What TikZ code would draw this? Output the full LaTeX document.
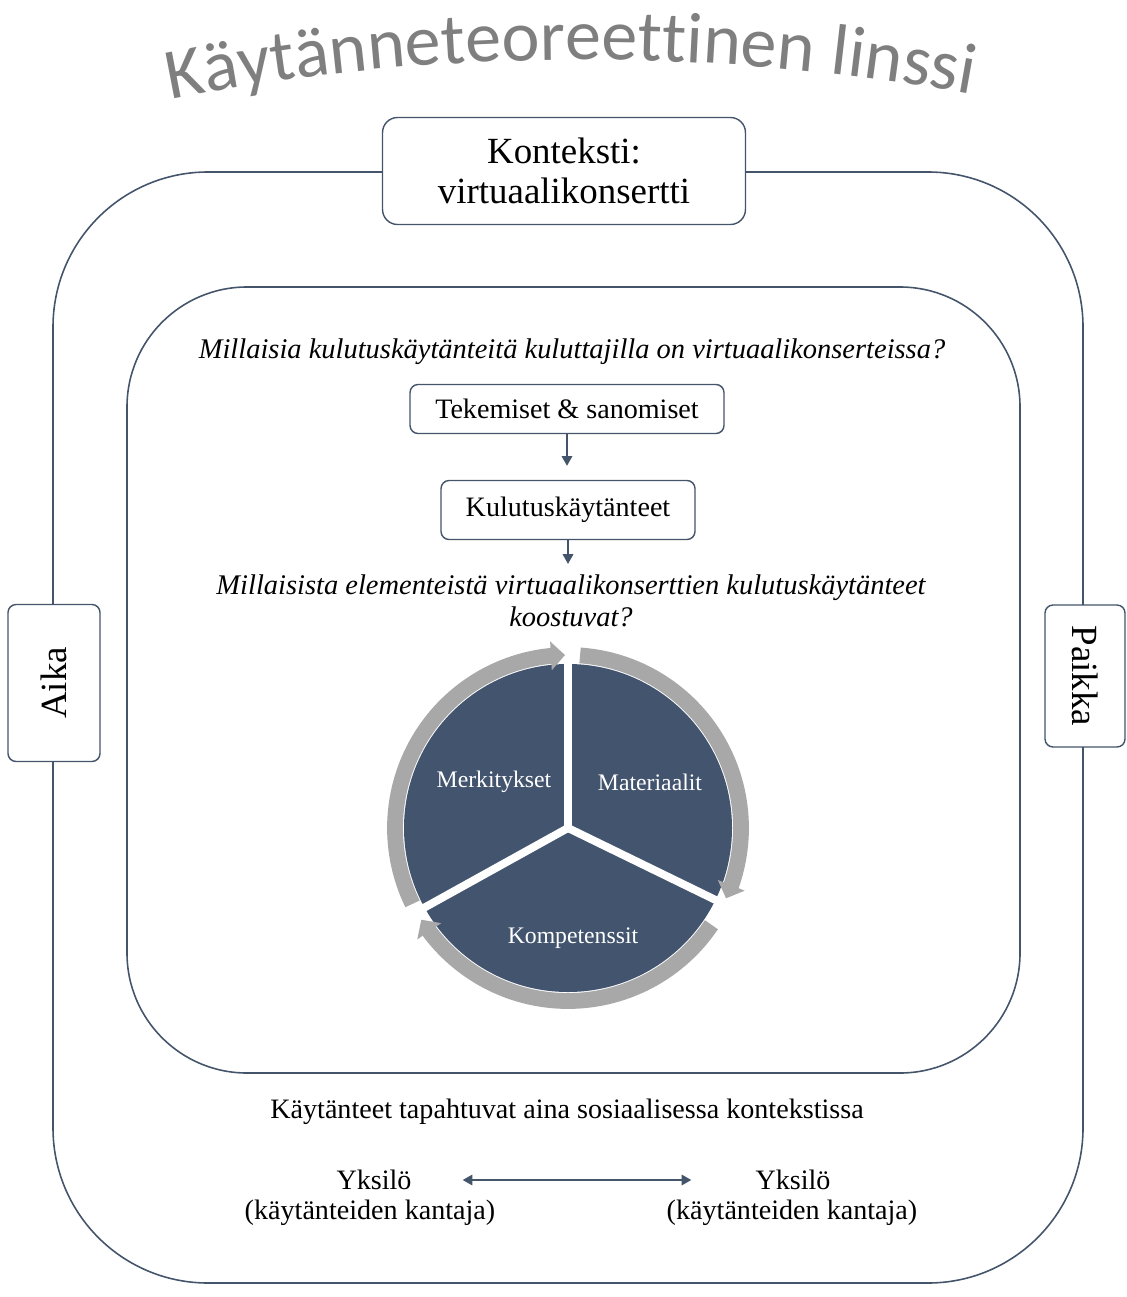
\documentclass[tikz,border=0pt]{standalone}
\usepackage{fontspec}
\usepackage{xcolor}
\usepackage{tikz}
\usetikzlibrary{arrows.meta,bending,decorations.text}
\setmainfont{Liberation Serif}
\newfontfamily\titlefont{Carlito}
\definecolor{slate}{HTML}{44546A}
\definecolor{sectorblue}{HTML}{43546E}
\definecolor{ringgray}{HTML}{A8A8A8}
\definecolor{titlegray}{HTML}{7F7F7F}

\begin{document}
\begin{tikzpicture}[x=0.02cm, y=-0.02cm,
	frame/.style={draw=slate, line width=0.9pt},
	box/.style={draw=slate, line width=0.8pt, fill=white, rounded corners=0.16cm, font=\fontsize{16}{19}\selectfont},
	question/.style={font=\itshape\fontsize{16.2}{18}\selectfont, align=center},
	body/.style={font=\fontsize{16}{19}\selectfont},
	seglabel/.style={text=white, font=\fontsize{13.5}{16}\selectfont},
	arrow/.style={draw=slate, line width=0.8pt, -{Triangle[length=5.5pt,width=6pt]}},
	dblarrow/.style={draw=slate, line width=0.8pt, {Triangle[length=5.5pt,width=6pt]}-{Triangle[length=5.5pt,width=6pt]}},
	ring/.style={draw=ringgray, line width=9pt, -{Triangle[length=8pt,width=16pt]}}]

			\useasboundingbox (0,0) rectangle (1126,1297);

			\path[decorate, decoration={text along path, text align=center, text color=titlegray,
				text={|\titlefont\fontsize{41}{44}\selectfont|Käytänneteoreettinen linssi}}]
				(150,104) .. controls (420,46) and (720,46) .. (992,98);

			\draw[frame, rounded corners=3.1cm] (53,172) rectangle (1083,1283);
			\draw[frame, rounded corners=2.4cm] (127,287) rectangle (1020,1073);

			\node[box, rounded corners=0.3cm, minimum width=7.26cm, minimum height=2.14cm, align=center,
				font=\fontsize{21}{23}\selectfont] (konteksti) at (564,171) {Konteksti:\\virtuaalikonsertti};
			\node[box, rotate=90, minimum width=3.14cm, minimum height=1.84cm, font=\fontsize{21}{23}\selectfont] (aika) at (54,683) {Aika};
			\node[box, rotate=-90, minimum width=2.84cm, minimum height=1.6cm, font=\fontsize{21}{23}\selectfont] (paikka) at (1085,676) {Paikka};

			\node[question] (kys1) at (572,352) {Millaisia kulutuskäytänteitä kuluttajilla on virtuaalikonserteissa?};
			\node[box, minimum width=6.28cm, minimum height=0.98cm] (tekemiset) at (567,409) {Tekemiset \& sanomiset};
			\node[box, minimum width=5.08cm, minimum height=1.18cm] (kulutus) at (568,510) {Kulutuskäytänteet};
			\node[question] (kys2) at (571,601) {Millaisista elementeistä virtuaalikonserttien kulutuskäytänteet\\koostuvat?};

			\draw[arrow, shorten >=0.28cm] (tekemiset.south) -- (tekemiset.south |- kulutus.north);
			\draw[arrow, shorten >=0.1cm] (kulutus.south) -- (kulutus.south |- kys2.north);

			\begin{scope}[shift={(568,828)}, x=0.02cm, y=0.02cm]
				\fill[sectorblue] (0,0) circle[radius=164];
				\foreach \a in {90,-26,209}
					\draw[white, line width=4.5pt] (0,0) -- (\a:168);
				\foreach \s/\e in {206/91, 86/-24, -34/-148}
					\draw[ring] (\s:173) arc[start angle=\s, end angle=\e, radius=173];
			\end{scope}

			\node[seglabel] (merkitykset) at (494,782) {Merkitykset};
			\node[seglabel] (materiaalit) at (650,782) {Materiaalit};
			\node[seglabel] (kompetenssit) at (573,938) {Kompetenssit};

			\node[body] (sosiaalinen) at (567,1112) {Käytänteet tapahtuvat aina sosiaalisessa kontekstissa};
			\node[body] (yksA) at (374,1180) {Yksilö};
			\node[body] (kantajaA) at (370,1213) {(käytänteiden kantaja)};
			\node[body] (yksB) at (793,1180) {Yksilö};
			\node[body] (kantajaB) at (792,1213) {(käytänteiden kantaja)};
			\draw[dblarrow, shorten <=0.9cm, shorten >=1.16cm] (yksA) -- (yksB);
\end{tikzpicture}
\end{document}
